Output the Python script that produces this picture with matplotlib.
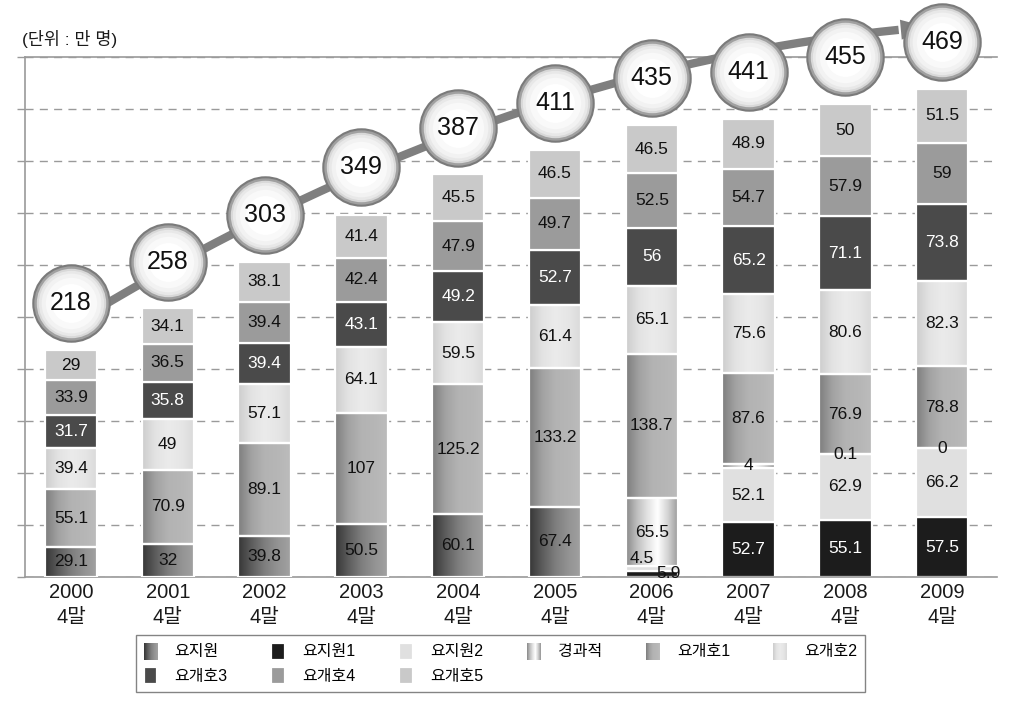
import numpy as np
import matplotlib
matplotlib.use('Agg')
import matplotlib.pyplot as plt
from matplotlib.colors import LinearSegmentedColormap
from matplotlib.legend_handler import HandlerBase
from matplotlib.image import BboxImage
from matplotlib.transforms import Bbox, TransformedBbox

plt.rcParams['font.family'] = ['Liberation Sans', 'Noto Sans CJK KR']

# ---------------- data ----------------
years = ['2000', '2001', '2002', '2003', '2004', '2005', '2006', '2007', '2008', '2009']
tick_labels = [f"{y}\n4말" for y in years]
series_names = ['요지원', '요지원1', '요지원2', '경과적', '요개호1', '요개호2', '요개호3', '요개호4', '요개호5']
nan = np.nan
yojiwon = [29.1, 32, 39.8, 50.5, 60.1, 67.4, nan, nan, nan, nan]
yojiwon1 = [nan, nan, nan, nan, nan, nan, 5.9, 52.7, 55.1, 57.5]
yojiwon2 = [nan, nan, nan, nan, nan, nan, 4.5, 52.1, 62.9, 66.2]
gyeonggwa = [nan, nan, nan, nan, nan, nan, 65.5, 4, 0.1, 0]
yogaeho1 = [55.1, 70.9, 89.1, 107, 125.2, 133.2, 138.7, 87.6, 76.9, 78.8]
yogaeho2 = [39.4, 49, 57.1, 64.1, 59.5, 61.4, 65.1, 75.6, 80.6, 82.3]
yogaeho3 = [31.7, 35.8, 39.4, 43.1, 49.2, 52.7, 56, 65.2, 71.1, 73.8]
yogaeho4 = [33.9, 36.5, 39.4, 42.4, 47.9, 49.7, 52.5, 54.7, 57.9, 59]
yogaeho5 = [29, 34.1, 38.1, 41.4, 45.5, 46.5, 46.5, 48.9, 50, 51.5]
totals = [218, 258, 303, 349, 387, 411, 435, 441, 455, 469]
unit_label = '(단위 : 만 명)'

series_values = [yojiwon, yojiwon1, yojiwon2, gyeonggwa, yogaeho1,
                 yogaeho2, yogaeho3, yogaeho4, yogaeho5]

# ---------------- styles ----------------
grad = {
    '요지원': ['#363636', '#5c5c5c', '#7e7e7e', '#939393', '#a2a2a2'],
    '경과적': ['#8a8a8a', '#bdbdbd', '#e2e2e2', '#ffffff', '#d2d2d2', '#969696'],
    '요개호1': ['#7e7e7e', '#a2a2a2', '#b3b3b3', '#b6b6b6', '#bcbcbc'],
    '요개호2': ['#cdcdcd', '#e3e3e3', '#ebebeb', '#e6e6e6', '#dadada'],
}
solid = {
    '요지원1': '#1c1c1c',
    '요지원2': '#e0e0e0',
    '요개호3': '#4a4a4a',
    '요개호4': '#9b9b9b',
    '요개호5': '#c9c9c9',
}
white_text = {'요지원1', '요개호3'}
cmaps = {k: LinearSegmentedColormap.from_list(k, v) for k, v in grad.items()}
special_offsets = {(6, '요지원1'): (12, 0.5), (6, '요지원2'): (-7, 7.5)}

fig = plt.figure(figsize=(10.24, 7.03), dpi=100)
ax = fig.add_axes([25 / 1024, 1 - 577 / 703, (997 - 25) / 1024, (577 - 57) / 703])
ax.set_xlim(-0.475, 9.566)
ax.set_ylim(0, 500)
ax.set_axisbelow(True)

x = np.arange(len(years))
width = 0.54
bottom = np.zeros(len(years))
containers = []
for name, vals in zip(series_names, series_values):
    v = np.array(vals, dtype=float)
    if name in grad:
        cont = ax.bar(x, v, width, bottom=bottom, facecolor='none',
                      edgecolor='white', linewidth=1.6, zorder=3)
        grad_arr = np.linspace(0, 1, 128).reshape(1, -1)
        for p in cont.patches:
            h = p.get_height()
            if not np.isfinite(h) or h <= 0:
                continue
            im = ax.imshow(grad_arr, cmap=cmaps[name], aspect='auto',
                           extent=[p.get_x(), p.get_x() + p.get_width(),
                                   p.get_y(), p.get_y() + h],
                           interpolation='bilinear', zorder=2)
            im.set_clip_path(p)
    else:
        cont = ax.bar(x, v, width, bottom=bottom, color=solid[name],
                      edgecolor='white', linewidth=1.6, zorder=2)
    containers.append(cont)
    for i, val in enumerate(v):
        if not np.isfinite(val):
            continue
        yc = bottom[i] + val / 2
        off = special_offsets.get((i, name))
        if off is not None:
            col = '#111111'
        else:
            off = (0, 0)
            col = 'white' if name in white_text else '#111111'
        ax.annotate(f"{val:g}", (x[i], yc), xytext=off, textcoords='offset points',
                    ha='center', va='center', fontsize=12.5, color=col, zorder=4)
    bottom = bottom + np.nan_to_num(v)

ax.set_xlim(-0.475, 9.566)
ax.set_ylim(0, 500)

# ---------------- arrow & bubbles ----------------
tot = np.array(totals, dtype=float)
coef = np.polyfit(x, tot, 2)
xs = np.linspace(0, 8.55, 200)
ys = np.polyval(coef, xs) + 29 + 4 * xs
ax.plot(xs, ys, color='#7f7f7f', lw=6, solid_capstyle='butt', zorder=5, clip_on=False)
x_tip = 8.85
y_tip = np.polyval(coef, x_tip) + 29 + 4 * x_tip
x_b = 8.50
y_b = np.polyval(coef, x_b) + 29 + 4 * x_b
ax.annotate('', xy=(x_tip, y_tip), xytext=(x_b, y_b), annotation_clip=False,
            arrowprops=dict(arrowstyle='-|>,head_length=0.97,head_width=0.36',
                            mutation_scale=20, color='#7f7f7f', lw=0,
                            shrinkA=0, shrinkB=0), zorder=5)

by = tot + 45
layers = [(55, '#a0a0a0', 1.5, '#7a7a7a'), (50, '#d8d8d8', 0, 'none'),
          (47, '#e8e8e8', 0, 'none'), (43, '#f2f2f2', 0, 'none'),
          (37, '#f9f9f9', 0, 'none'), (28, '#ffffff', 0, 'none')]
for ms, fc, mew, mec in layers:
    ax.plot(x, by, 'o', ms=ms, mfc=fc, mec=mec, mew=mew, ls='none',
            zorder=6, clip_on=False)
for i, t in enumerate(totals):
    ax.text(x[i], by[i], str(t), ha='center', va='center', fontsize=18,
            color='#111111', zorder=7, clip_on=False)

# ---------------- axes styling ----------------
ax.set_yticks(np.arange(0, 501, 50))
ax.set_yticklabels([])
ax.tick_params(axis='y', length=6, width=1, color='#9a9a9a', direction='out')
ax.yaxis.grid(True, color='#9a9a9a', linestyle=(0, (5.8, 4.5)), linewidth=1)
ax.set_xticks(x)
ax.set_xticklabels(tick_labels, fontsize=14.5, linespacing=1.38, color='#1a1a1a')
ax.tick_params(axis='x', length=0, pad=4.5)
for s in ['left', 'top', 'bottom']:
    ax.spines[s].set_color('#9a9a9a')
    ax.spines[s].set_linewidth(1.2)
ax.spines['right'].set_visible(False)

fig.text(22 / 1024, 1 - 39 / 703, unit_label, ha='left', va='center',
         fontsize=12.5, color='#1a1a1a')


# ---------------- legend ----------------
class GradHandler(HandlerBase):
    def __init__(self, cmap):
        super().__init__()
        self.cmap = cmap

    def create_artists(self, legend, orig_handle, xdescent, ydescent,
                       width, height, fontsize, trans):
        bb = TransformedBbox(Bbox.from_bounds(-xdescent, -ydescent, width, height), trans)
        img = BboxImage(bb, cmap=self.cmap, interpolation='bilinear')
        img.set_data(np.linspace(0, 1, 64).reshape(1, -1))
        return [img]


handler_map = {c: GradHandler(cmaps[n]) for c, n in zip(containers, series_names) if n in grad}
order = [0, 6, 1, 7, 2, 8, 3, 4, 5]
leg = fig.legend([containers[i] for i in order], [series_names[i] for i in order],
                 loc='center', bbox_to_anchor=(500.5 / 1024, 1 - 663.5 / 703),
                 ncol=6, fontsize=11.5, handlelength=0.85, handleheight=1.25,
                 handletextpad=1.1, columnspacing=2.72, labelspacing=0.5,
                 borderpad=0.5, frameon=True, fancybox=False, edgecolor='#666666',
                 handler_map=handler_map)
leg.get_frame().set_linewidth(1)

fig.savefig('out.png', dpi=100)
